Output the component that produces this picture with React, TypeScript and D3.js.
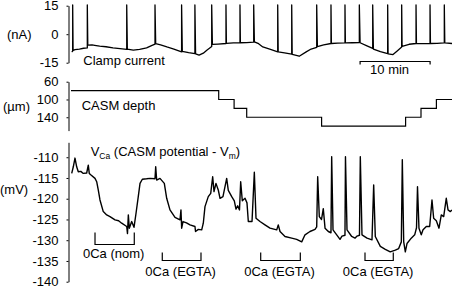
import React, { useEffect, useRef } from "react";
import * as d3 from "d3";

const W = 452;
const H = 287;
const FONT = "Arial, 'Liberation Sans', Helvetica, sans-serif";

// Tick labels
const currentTicks = [15, 0, -15];
const depthTicks = [60, 100, 140];
const voltageTicks = [-110, -115, -120, -125, -130, -135, -140];

// Clamp current (nA) vs time (min); spike peaks are clipped at the top
const currentTrace: [number, number][] = [
  [0.1, -9.3], [0.24, -9.0], [0.24, 15.4], [0.3, -8.6], [0.57, -8.1], [1.2, -7.8], [1.8, -7.4], [2.33, -7.2],
  [2.33, 15.4], [2.4, -5.8], [3.0, -5.6], [3.6, -6.0], [4.1, -6.3], [5.0, -6.6], [6.0, -7.2], [7.0, -7.6], [7.96, -8.0],
  [7.96, 15.4], [8.05, -7.9], [8.9, -8.4], [9.8, -8.0], [10.8, -7.2], [11.5, -6.0], [12.0, -5.2],
  [12.0, 15.4], [12.1, -4.9], [12.8, -5.6], [13.7, -6.7], [14.7, -7.8], [15.8, -9.3],
  [15.8, 15.4], [15.9, -9.0], [16.8, -9.7], [17.7, -10.2],
  [17.7, 15.4], [17.8, -10.3], [18.3, -11.0], [18.9, -10.0], [19.4, -8.4], [20.1, -6.5],
  [20.1, 15.4], [20.2, -5.4], [21.0, -5.2], [22.14, -4.9],
  [22.14, 15.4], [22.2, -4.8], [23.2, -4.6], [24.14, -4.6],
  [24.14, 15.4], [24.2, -4.5], [25.1, -4.4], [26.1, -4.2],
  [26.1, 15.4], [26.2, -4.0], [26.8, -5.0], [27.4, -6.7], [28.5, -8.0], [29.53, -9.3],
  [29.53, 15.4], [29.6, -9.3], [30.5, -9.8], [31.53, -10.5],
  [31.53, 15.4], [31.6, -10.6], [32.6, -11.6], [33.6, -9.3], [34.3, -7.8], [35.1, -6.9],
  [35.1, 15.4], [35.2, -6.5], [36.1, -5.6], [37.14, -4.9],
  [37.14, 15.4], [37.2, -4.9], [38.1, -4.7], [39.14, -4.6],
  [39.14, 15.4], [39.2, -4.6], [40.2, -4.5], [41.19, -4.4],
  [41.19, 15.4], [41.3, -4.5], [42.2, -6.0], [43.1, -7.5],
  [43.1, 15.4], [43.2, -7.8], [44.2, -9.2], [45.24, -10.2],
  [45.24, 15.4], [45.3, -10.3], [46.0, -10.7], [46.6, -8.8], [47.24, -6.7],
  [47.24, 15.4], [47.3, -6.4], [48.3, -5.3], [49.29, -4.9],
  [49.29, 15.4], [49.35, -4.9], [50.3, -5.0], [51.29, -4.9],
  [51.29, 15.4], [51.35, -4.9], [52.3, -4.8], [53.33, -4.6],
  [53.33, 15.4], [53.4, -4.6], [54.43, -4.9],
];

// CASM depth (µm) steps: [start time, depth]
const depthSteps: [number, number][] = [
  [0, 80], [21.1, 100], [23.3, 120], [25.1, 140], [35.8, 160], [47.8, 140], [50.0, 120], [52.2, 100], [54.43, 100],
];

// V_Ca (mV) vs time (min)
const voltageTrace: [number, number][] = [
  [0.1, -113.9], [0.33, -112.3], [0.57, -110.2], [0.81, -112.3], [1.04, -113.5], [1.4, -113.4], [1.76, -113.9],
  [2.24, -113.8], [2.47, -111.9], [2.61, -113.9], [2.86, -114.3], [3.43, -115.1], [3.67, -115.9], [3.9, -117.9],
  [4.14, -120.3], [4.61, -123.1], [5.1, -123.9], [5.57, -124.3], [6.29, -125.1], [6.8, -125.3], [7.24, -125.9],
  [7.96, -126.7], [8.07, -128.4], [8.19, -123.9], [8.33, -127.1], [8.67, -125.5], [9.0, -126.9], [9.29, -123.5],
  [9.61, -119.5], [9.86, -116.3], [10.19, -115.3], [10.8, -115.2], [11.29, -115.1], [12.0, -115.2], [12.1, -112.3],
  [12.24, -115.5], [12.71, -115.1], [13.33, -116.3], [13.67, -119.9], [14.14, -122.7], [14.86, -124.5],
  [15.57, -125.1], [15.71, -122.7], [15.81, -127.1], [16.0, -125.5], [16.5, -125.8], [17.0, -126.3], [17.71, -126.7],
  [17.79, -127.9], [18.19, -127.4], [18.67, -127.5], [18.9, -125.9], [19.14, -121.9], [19.61, -119.5],
  [19.96, -118.7], [20.24, -114.7], [20.43, -118.3], [20.71, -116.3], [21.04, -117.9], [21.29, -119.9],
  [21.71, -119.5], [22.24, -115.1], [22.47, -118.0], [22.96, -119.5], [23.33, -120.5], [23.57, -122.5],
  [23.81, -121.7], [24.07, -122.7], [24.24, -115.9], [24.47, -120.5], [24.86, -119.9], [25.14, -121.0],
  [25.33, -125.5], [25.86, -125.5], [26.19, -113.6], [26.43, -124.7], [27.0, -125.5], [27.71, -126.3],
  [28.43, -127.1], [29.39, -127.5], [29.61, -126.3], [29.86, -127.9], [30.57, -129.1], [31.53, -129.5],
  [32.24, -129.8], [32.96, -130.4], [33.43, -128.7], [34.14, -127.9], [34.86, -127.4], [35.1, -126.8],
  [35.24, -114.7], [35.47, -124.3], [35.79, -125.0], [36.04, -122.4], [36.29, -127.1], [36.76, -127.9],
  [37.14, -128.2], [37.24, -109.9], [37.43, -127.5], [37.96, -128.7], [38.43, -129.8], [38.71, -129.0],
  [39.14, -128.8], [39.21, -109.9], [39.43, -127.5], [40.1, -129.1], [40.57, -129.5], [40.86, -129.0],
  [41.21, -128.8], [41.33, -109.9], [41.57, -128.7], [42.29, -129.5], [43.0, -129.9], [43.24, -116.7],
  [43.47, -129.1], [44.19, -131.5], [44.9, -132.2], [45.61, -132.8], [46.33, -132.4], [46.81, -132.0],
  [47.19, -130.4], [47.33, -110.6], [47.53, -130.4], [47.76, -132.8], [48.0, -130.8], [48.61, -129.5],
  [49.1, -128.7], [49.36, -127.0], [49.5, -117.1], [49.71, -127.1], [50.04, -128.7], [50.29, -127.5],
  [50.76, -126.7], [51.24, -126.7], [51.57, -120.3], [51.81, -124.7], [52.19, -125.3], [52.57, -127.1],
  [52.9, -123.9], [53.24, -124.3], [53.61, -119.9], [53.86, -122.7], [54.19, -123.1], [54.43, -122.7],
];

// 0Ca periods (min)
const periodLabels = ["0Ca (nom)", "0Ca (EGTA)", "0Ca (EGTA)", "0Ca (EGTA)"];
const periodStarts = [3.43, 13.04, 27.1, 42.0];
const periodEnds = [9.04, 18.57, 32.76, 46.04];
const periodLevels = [-130.9, -134.8, -134.8, -134.8];

// Scale bar
const scaleBarStart = 41.3;
const scaleBarMinutes = 10;

const AXIS_X = 68.5;

function Axis({ scale, ticks }: { scale: d3.ScaleLinear<number, number>; ticks: number[] }) {
  const ref = useRef<SVGGElement>(null);
  useEffect(() => {
    if (!ref.current) return;
    const g = d3.select(ref.current);
    g.call(
      d3
        .axisLeft(scale)
        .tickValues(ticks)
        .tickSize(2)
        .tickSizeOuter(0)
        .tickPadding(8)
        .tickFormat((d) => String(d))
    );
    g.attr("font-size", 13).attr("font-family", FONT);
    g.selectAll("path,line").attr("stroke", "#000").attr("stroke-width", 1);
    g.selectAll("text").attr("fill", "#000");
  }, [scale, ticks]);
  return <g ref={ref} transform={`translate(${AXIS_X},0)`} />;
}

export default function App() {
  const x = d3.scaleLinear().domain([0, 54.5]).range([71, 452.5]);
  const yCur = d3.scaleLinear().domain([15, -15]).range([5.7, 62.7]);
  const yDepth = d3.scaleLinear().domain([60, 170]).range([81.7, 130.6]);
  const yV = d3.scaleLinear().domain([-106.4, -140]).range([142.3, 281.7]);

  const curLine = d3
    .line<[number, number]>()
    .x((d) => x(d[0]))
    .y((d) => yCur(d[1]));
  const depthLine = d3
    .line<[number, number]>()
    .x((d) => x(d[0]))
    .y((d) => yDepth(d[1]))
    .curve(d3.curveStepAfter);
  const vLine = d3
    .line<[number, number]>()
    .x((d) => x(d[0]))
    .y((d) => yV(d[1]));

  const sbX0 = x(scaleBarStart);
  const sbX1 = x(scaleBarStart + scaleBarMinutes);

  return (
    <svg
      width={W}
      height={H}
      style={{ position: "absolute", left: 0, top: 0, background: "#fff" }}
      fontFamily={FONT}
      fontSize={13}
    >
      <rect width={W} height={H} fill="#fff" />
      {/* Top panel */}
      <Axis scale={yCur} ticks={currentTicks} />
      <text x={7} y={34} dy="0.35em">(nA)</text>
      <path d={curLine(currentTrace) || ""} fill="none" stroke="#000" strokeWidth={1.3} strokeLinejoin="round" />
      <text x={83.3} y={65.3}>Clamp current</text>
      <path
        d={`M${sbX0},64.5V61.5H${sbX1}V64.5`}
        fill="none"
        stroke="#000"
        strokeWidth={1.2}
      />
      <text x={(sbX0 + sbX1) / 2 - 5.5} y={74} textAnchor="middle">10 min</text>

      {/* Middle panel */}
      <Axis scale={yDepth} ticks={depthTicks} />
      <text x={3} y={106.5} dy="0.35em">(µm)</text>
      <path d={depthLine(depthSteps) || ""} fill="none" stroke="#000" strokeWidth={1.2} />
      <text x={81.7} y={110.3}>CASM depth</text>

      {/* Bottom panel */}
      <Axis scale={yV} ticks={voltageTicks} />
      <text x={0} y={189} dy="0.35em">(mV)</text>
      <path d={vLine(voltageTrace) || ""} fill="none" stroke="#000" strokeWidth={1.4} strokeLinejoin="round" />
      <text x={90.7} y={156}>
        V<tspan fontSize={8.5} dy={3}>Ca</tspan>
        <tspan dy={-3}> (CASM potential - V</tspan>
        <tspan fontSize={8.5} dy={3}>m</tspan>
        <tspan dy={-3}>)</tspan>
      </text>
      {periodLabels.map((label, i) => {
        const x0 = x(periodStarts[i]);
        const x1 = x(periodEnds[i]);
        const yy = Math.round(yV(periodLevels[i])) + 0.5;
        const h = i === 0 ? 12 : 8;
        return (
          <g key={i}>
            <path d={`M${x0},${yy - h}V${yy}H${x1}V${yy - h}`} fill="none" stroke="#000" strokeWidth={1.2} />
            <text x={(x0 + x1) / 2 - 1} y={yy + (i === 0 ? 13.5 : 15)} textAnchor="middle">
              {label}
            </text>
          </g>
        );
      })}
    </svg>
  );
}
